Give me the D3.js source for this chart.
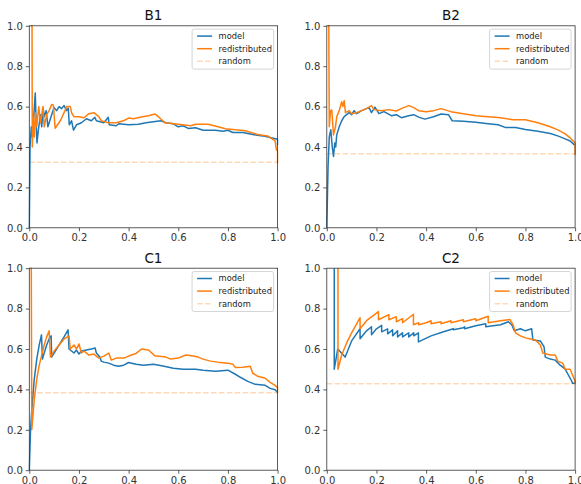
<!DOCTYPE html>
<html>
<head>
<meta charset="utf-8">
<script src="https://cdn.jsdelivr.net/npm/d3@7"></script>
<style>
  body { margin: 0; background: #fff; }
  svg { display: block; font-family: "DejaVu Sans", sans-serif; }
</style>
</head>
<body>
<div id="chart"></div>
<script>
// tick values and labels
const ticks = [0, 0.2, 0.4, 0.6, 0.8, 1.0];
const titles = ["B1", "B2", "C1", "C2"];
const seriesNames = ["model", "redistributed", "random"];

// [recall, precision]
const b1Model = [[0,0],[0.003,0.40],[0.008,0.50],[0.012,0.45],[0.018,0.55],[0.024,0.667],[0.028,0.50],[0.031,0.42],[0.036,0.48],[0.045,0.56],[0.05,0.50],[0.056,0.59],[0.06,0.55],[0.068,0.58],[0.075,0.50],[0.09,0.56],[0.1,0.595],[0.11,0.58],[0.12,0.60],[0.13,0.59],[0.14,0.605],[0.15,0.58],[0.157,0.592],[0.161,0.51],[0.17,0.53],[0.178,0.484],[0.19,0.51],[0.21,0.52],[0.23,0.54],[0.25,0.53],[0.264,0.547],[0.27,0.53],[0.3,0.52],[0.318,0.547],[0.322,0.51],[0.35,0.505],[0.36,0.515],[0.4,0.51],[0.44,0.513],[0.47,0.52],[0.5,0.525],[0.53,0.53],[0.55,0.52],[0.58,0.515],[0.6,0.50],[0.62,0.505],[0.64,0.492],[0.67,0.495],[0.7,0.483],[0.75,0.483],[0.78,0.478],[0.8,0.483],[0.82,0.472],[0.86,0.472],[0.9,0.462],[0.94,0.455],[0.97,0.447],[0.995,0.44],[1.0,0.44],[1.0,0.41]];
const b1Redist = [[0.006,1.0],[0.011,1.0],[0.012,0.40],[0.016,0.55],[0.02,0.45],[0.025,0.57],[0.03,0.50],[0.038,0.60],[0.045,0.52],[0.055,0.60],[0.06,0.50],[0.07,0.56],[0.08,0.58],[0.09,0.61],[0.097,0.608],[0.104,0.493],[0.125,0.53],[0.151,0.60],[0.165,0.60],[0.171,0.567],[0.18,0.55],[0.2,0.55],[0.22,0.545],[0.24,0.565],[0.26,0.57],[0.28,0.55],[0.29,0.53],[0.318,0.52],[0.35,0.52],[0.38,0.53],[0.4,0.543],[0.42,0.54],[0.45,0.548],[0.48,0.555],[0.506,0.563],[0.52,0.55],[0.546,0.52],[0.6,0.513],[0.65,0.505],[0.67,0.513],[0.72,0.513],[0.76,0.50],[0.79,0.49],[0.82,0.487],[0.87,0.48],[0.92,0.462],[0.96,0.455],[0.99,0.43],[0.995,0.388],[1.0,0.38],[1.0,0.32]];

const b2Model = [[0,0],[0.005,0.3],[0.01,0.45],[0.016,0.485],[0.022,0.40],[0.027,0.353],[0.032,0.42],[0.036,0.40],[0.04,0.46],[0.05,0.50],[0.06,0.53],[0.07,0.55],[0.08,0.56],[0.09,0.57],[0.1,0.56],[0.11,0.58],[0.12,0.565],[0.14,0.58],[0.16,0.59],[0.17,0.595],[0.18,0.57],[0.194,0.597],[0.21,0.565],[0.23,0.575],[0.26,0.555],[0.28,0.56],[0.3,0.545],[0.33,0.555],[0.35,0.56],[0.37,0.548],[0.395,0.538],[0.43,0.55],[0.46,0.563],[0.49,0.56],[0.505,0.53],[0.55,0.528],[0.6,0.522],[0.65,0.515],[0.69,0.51],[0.718,0.497],[0.76,0.497],[0.8,0.487],[0.85,0.478],[0.9,0.467],[0.93,0.455],[0.96,0.44],[0.98,0.43],[0.995,0.413],[1.0,0.41]];
const b2Redist = [[0.004,1.0],[0.008,1.0],[0.01,0.50],[0.015,0.58],[0.02,0.583],[0.027,0.46],[0.035,0.5],[0.04,0.55],[0.05,0.58],[0.06,0.624],[0.065,0.60],[0.07,0.63],[0.075,0.57],[0.09,0.58],[0.1,0.565],[0.12,0.57],[0.14,0.58],[0.16,0.59],[0.18,0.605],[0.19,0.585],[0.22,0.58],[0.25,0.585],[0.28,0.578],[0.3,0.59],[0.33,0.605],[0.35,0.595],[0.37,0.58],[0.4,0.575],[0.43,0.58],[0.46,0.59],[0.5,0.575],[0.55,0.565],[0.6,0.555],[0.65,0.55],[0.7,0.545],[0.75,0.535],[0.8,0.535],[0.85,0.52],[0.9,0.50],[0.93,0.485],[0.96,0.465],[0.98,0.445],[1.0,0.42],[1.0,0.36]];

const c1Model = [[0,0],[0.005,0.2],[0.01,0.3],[0.02,0.45],[0.03,0.55],[0.04,0.62],[0.049,0.67],[0.053,0.55],[0.06,0.58],[0.07,0.62],[0.08,0.65],[0.088,0.665],[0.09,0.56],[0.1,0.58],[0.12,0.62],[0.14,0.66],[0.156,0.695],[0.16,0.6],[0.17,0.59],[0.18,0.58],[0.19,0.595],[0.2,0.575],[0.21,0.59],[0.23,0.595],[0.25,0.6],[0.265,0.605],[0.27,0.58],[0.284,0.56],[0.29,0.54],[0.3,0.535],[0.32,0.53],[0.34,0.52],[0.36,0.515],[0.38,0.52],[0.4,0.533],[0.43,0.525],[0.46,0.52],[0.5,0.525],[0.533,0.517],[0.58,0.505],[0.62,0.50],[0.67,0.50],[0.7,0.495],[0.75,0.49],[0.8,0.495],[0.83,0.475],[0.85,0.46],[0.88,0.44],[0.91,0.425],[0.95,0.42],[0.97,0.405],[0.99,0.398],[1.0,0.385]];
const c1Redist = [[0.004,1.0],[0.008,1.0],[0.01,0.2],[0.02,0.35],[0.03,0.45],[0.04,0.52],[0.05,0.57],[0.06,0.62],[0.07,0.66],[0.08,0.69],[0.085,0.56],[0.09,0.57],[0.1,0.59],[0.12,0.62],[0.14,0.65],[0.16,0.665],[0.165,0.60],[0.18,0.62],[0.19,0.60],[0.2,0.625],[0.21,0.58],[0.22,0.59],[0.24,0.57],[0.26,0.575],[0.28,0.555],[0.3,0.565],[0.32,0.58],[0.33,0.545],[0.35,0.555],[0.38,0.555],[0.4,0.565],[0.43,0.578],[0.452,0.6],[0.48,0.595],[0.505,0.567],[0.55,0.56],[0.57,0.55],[0.6,0.555],[0.63,0.57],[0.66,0.565],[0.68,0.56],[0.7,0.55],[0.73,0.54],[0.76,0.535],[0.8,0.53],[0.82,0.525],[0.83,0.508],[0.86,0.51],[0.89,0.515],[0.9,0.48],[0.92,0.465],[0.95,0.455],[0.97,0.435],[0.99,0.42],[1.0,0.408],[1.0,0.38]];

const c2Model = [[0.03,1.0],[0.03,0.5],[0.044,0.6],[0.074,0.56],[0.1,0.64],[0.134,0.70],[0.134,0.651],[0.16,0.69],[0.18,0.71],[0.18,0.67],[0.2,0.70],[0.221,0.717],[0.221,0.685],[0.245,0.70],[0.245,0.675],[0.265,0.695],[0.265,0.665],[0.285,0.69],[0.285,0.66],[0.305,0.68],[0.305,0.66],[0.33,0.68],[0.33,0.66],[0.35,0.68],[0.35,0.665],[0.369,0.68],[0.369,0.635],[0.42,0.665],[0.47,0.685],[0.51,0.70],[0.51,0.695],[0.55,0.705],[0.555,0.71],[0.555,0.70],[0.6,0.715],[0.64,0.725],[0.64,0.71],[0.7,0.72],[0.731,0.735],[0.745,0.72],[0.755,0.69],[0.78,0.70],[0.8,0.69],[0.825,0.70],[0.83,0.645],[0.86,0.64],[0.875,0.61],[0.88,0.56],[0.9,0.55],[0.92,0.545],[0.94,0.52],[0.96,0.50],[0.985,0.444],[0.99,0.43],[1.0,0.43]];
const c2Redist = [[0.045,1.0],[0.045,0.5],[0.06,0.57],[0.08,0.63],[0.1,0.68],[0.134,0.755],[0.134,0.70],[0.16,0.74],[0.208,0.785],[0.208,0.745],[0.25,0.77],[0.25,0.745],[0.28,0.76],[0.28,0.735],[0.305,0.75],[0.305,0.73],[0.349,0.772],[0.349,0.72],[0.37,0.73],[0.37,0.72],[0.4,0.73],[0.42,0.74],[0.42,0.725],[0.46,0.735],[0.46,0.725],[0.5,0.74],[0.5,0.73],[0.55,0.745],[0.55,0.735],[0.6,0.75],[0.6,0.74],[0.65,0.762],[0.65,0.73],[0.7,0.74],[0.737,0.746],[0.75,0.72],[0.76,0.68],[0.78,0.665],[0.8,0.655],[0.82,0.65],[0.84,0.645],[0.86,0.62],[0.87,0.58],[0.9,0.57],[0.92,0.57],[0.93,0.54],[0.95,0.53],[0.96,0.5],[0.98,0.5],[0.99,0.47],[1.0,0.44],[1.0,0.425]];

// dashed baseline per panel
const randomLevels = [0.325, 0.366, 0.383, 0.428];

const modelSeries = [b1Model, b2Model, c1Model, c2Model];
const redistSeries = [b1Redist, b2Redist, c1Redist, c2Redist];

//layout
const width = 581, height = 484;
const plotW = 248.3, plotH = 202;
const lefts = [29.3, 326.8];
const tops = [25.8, 268.2];
const colors = ["#1f77b4", "#ff7f0e", "#ff7f0e"];

const svg = d3.select("#chart")
  .append("svg")
    .attr("width", width)
    .attr("height", height);

const x = d3.scaleLinear().domain([0, 1]).range([0, plotW]);
const y = d3.scaleLinear().domain([0, 1]).range([plotH, 0]);

const line = d3.line()
  .x(d => x(d[0]))
  .y(d => y(d[1]));

titles.forEach((title, i) => {
  const g = svg.append("g")
    .attr("transform", `translate(${lefts[i % 2]}, ${tops[Math.floor(i / 2)]})`);

  g.append("clipPath").attr("id", "clip" + i)
    .append("rect").attr("x", -1).attr("y", -1).attr("width", plotW + 2).attr("height", plotH + 2);

  const plot = g.append("g").attr("clip-path", `url(#clip${i})`);

  // random baseline
  plot.append("line")
    .attr("x1", x(0)).attr("x2", x(1))
    .attr("y1", y(randomLevels[i])).attr("y2", y(randomLevels[i]))
    .attr("stroke", colors[2])
    .attr("stroke-opacity", 0.3)
    .attr("stroke-width", 1.5)
    .attr("stroke-dasharray", "5.5,2.4");

  plot.append("path")
    .datum(modelSeries[i])
    .attr("fill", "none")
    .attr("stroke", colors[0])
    .attr("stroke-width", 1.5)
    .attr("stroke-linejoin", "round")
    .attr("d", line);

  plot.append("path")
    .datum(redistSeries[i])
    .attr("fill", "none")
    .attr("stroke", colors[1])
    .attr("stroke-width", 1.5)
    .attr("stroke-linejoin", "round")
    .attr("d", line);

  // axes
  const xAxis = g.append("g")
    .attr("transform", `translate(0, ${plotH})`)
    .call(d3.axisBottom(x).tickValues(ticks).tickFormat(d3.format(".1f")).tickSize(3.5).tickPadding(3));
  const yAxis = g.append("g")
    .call(d3.axisLeft(y).tickValues(ticks).tickFormat(d3.format(".1f")).tickSize(3.5).tickPadding(3));
  [xAxis, yAxis].forEach(a => {
    a.select(".domain").remove();
    a.selectAll("line").attr("stroke", "#333").attr("stroke-width", 0.8);
    a.selectAll("text").attr("fill", "#333").style("font-size", "10px").style("font-family", "DejaVu Sans");
  });

  // spines
  g.append("rect")
    .attr("width", plotW).attr("height", plotH)
    .attr("fill", "none")
    .attr("stroke", "#333")
    .attr("stroke-width", 0.8);

  // title
  g.append("text")
    .attr("x", plotW / 2)
    .attr("y", -5.5)
    .attr("text-anchor", "middle")
    .style("font-size", "13.5px")
    .attr("fill", "#111")
    .text(title);

  // legend
  const lg = g.append("g").attr("transform", `translate(${plotW - 85.5}, 3.3)`);
  lg.append("rect")
    .attr("width", 81.5).attr("height", 40)
    .attr("rx", 2)
    .attr("fill", "#fff").attr("fill-opacity", 0.8)
    .attr("stroke", "#ccc").attr("stroke-width", 0.8);
  seriesNames.forEach((name, j) => {
    const ry = 7 + j * 12.6;
    lg.append("line")
      .attr("x1", 5).attr("x2", 20)
      .attr("y1", ry).attr("y2", ry)
      .attr("stroke", colors[j])
      .attr("stroke-width", 1.5)
      .attr("stroke-opacity", j === 2 ? 0.3 : 1)
      .attr("stroke-dasharray", j === 2 ? "5.5,2.4" : null);
    lg.append("text")
      .attr("x", 26.5).attr("y", ry)
      .attr("dy", "0.35em")
      .style("font-size", "8.3px")
      .attr("fill", "#222")
      .text(name);
  });
});
</script>
</body>
</html>
